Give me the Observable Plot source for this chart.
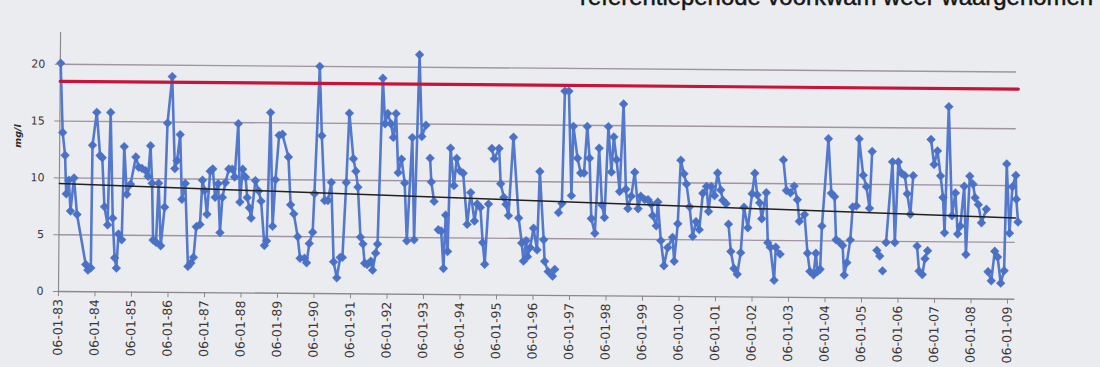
<!DOCTYPE html>
<html>
<head>
<meta charset="utf-8">
<script src="https://cdn.jsdelivr.net/npm/d3@7"></script>
<script src="https://cdn.jsdelivr.net/npm/@observablehq/plot@0.6"></script>
<style>
  html, body { margin: 0; padding: 0; background: #ebecef; width: 1100px; height: 367px; overflow: hidden; }
  #wrap { position: relative; width: 1100px; height: 367px; }
  #chart svg { position: absolute; left: 0; top: 0; transform-origin: 58px 291px; transform: rotate(0.46deg); }
  #overlay { position: absolute; left: 0; top: 0; pointer-events: none; }
</style>
</head>
<body>
<div id="wrap">
  <div id="chart"></div>
  <svg id="overlay" width="1100" height="367">
    <text x="580" y="5" font-family="Liberation Sans, Arial, sans-serif" font-size="24" fill="#151515" stroke="#151515" stroke-width="0.5" textLength="513" lengthAdjust="spacingAndGlyphs">referentieperiode voorkwam weer waargenomen</text>
    <text transform="translate(21,136) rotate(-90)" text-anchor="middle" font-family="DejaVu Sans, sans-serif" font-size="9.5" font-weight="bold" font-style="italic" fill="#2e2a2a">mg/l</text>
  </svg>
</div>
<script>
// Sampling moments (decimal years; 1983.00 = 06-01-83); null concentration = break in the line
const sampleYears = [
  1983.01,1983.08,1983.15,1983.19,1983.26,1983.31,1983.40,1983.49,1983.74,1983.80,1983.88,1983.90,
  1984.01,1984.11,1984.17,1984.24,1984.33,1984.39,1984.47,1984.53,1984.58,1984.63,1984.72,1984.77,1984.85,1984.95,
  1985.09,1985.17,1985.26,1985.36,1985.43,1985.49,1985.54,1985.58,1985.66,1985.72,1985.79,1985.89,1985.95,
  1986.07,1986.16,1986.22,1986.30,1986.36,1986.45,1986.54,1986.62,1986.69,1986.76,1986.86,1986.92,1986.98,
  1987.05,1987.13,1987.20,1987.27,1987.35,1987.41,1987.47,1987.55,1987.64,1987.73,1987.80,1987.89,1987.95,
  1988.02,1988.10,1988.15,1988.21,1988.26,1988.37,1988.46,1988.53,1988.63,1988.69,1988.77,1988.85,1988.92,
  1989.01,1989.10,1989.27,1989.34,1989.43,1989.54,1989.61,1989.73,1989.79,1989.86,1989.95,1989.99,
  1990.11,1990.18,1990.27,1990.36,1990.45,1990.53,1990.62,1990.71,1990.77,1990.86,1990.93,
  1991.05,1991.12,1991.18,1991.26,1991.33,1991.38,1991.45,1991.55,1991.60,1991.68,1991.73,1991.84,1991.91,1991.98,
  1992.07,1992.14,1992.21,1992.28,1992.37,1992.46,1992.53,1992.66,1992.73,1992.84,1992.92,
  1993.03,1993.09,1993.15,1993.19,1993.27,1993.33,1993.39,1993.47,1993.54,1993.59,1993.65,1993.71,1993.81,1993.88,1993.97,
  1994.06,1994.18,1994.27,1994.38,1994.45,1994.54,1994.61,1994.67,1994.76,1994.80,1994.84,1994.91,
  1995.04,1995.09,1995.18,1995.24,1995.31,1995.43,1995.59,1995.68,1995.73,1995.80,1995.84,1995.91,
  1996.00,1996.10,1996.16,1996.28,1996.31,1996.41,1996.53,1996.59,1996.63,1996.68,1996.77,1996.83,1996.94,
  1997.03,1997.07,1997.19,1997.28,1997.37,1997.45,1997.52,1997.58,1997.68,1997.78,1997.87,1997.94,
  1998.03,1998.12,1998.18,1998.26,1998.35,1998.44,1998.52,1998.58,1998.67,1998.76,1998.86,1998.93,
  1999.04,1999.13,1999.22,1999.26,1999.36,1999.40,1999.49,1999.58,1999.68,1999.81,1999.86,1999.95,
  2000.02,2000.11,2000.18,2000.27,2000.36,2000.45,2000.54,2000.63,2000.73,2000.79,2000.86,2000.95,
  2001.03,2001.12,2001.18,2001.27,2001.30,2001.34,2001.41,2001.50,2001.59,2001.68,2001.76,2001.87,2001.98,
  2002.05,2002.12,2002.19,2002.25,2002.37,2002.42,2002.49,2002.60,2002.64,2002.76,2002.80,2002.83,2002.92,
  2003.03,2003.13,2003.22,2003.28,2003.42,2003.51,2003.58,2003.68,2003.74,2003.79,2003.86,2003.90,
  2004.06,2004.15,2004.24,2004.29,2004.38,2004.47,2004.52,2004.59,2004.68,2004.74,2004.84,2004.90,
  2005.02,2005.11,2005.20,2005.26,2005.33,2005.41,2005.49,2005.53,2005.57,2005.61,2005.66,2005.82,2005.90,2005.98,
  2006.07,2006.16,2006.23,2006.32,2006.39,2006.45,2006.51,2006.57,2006.66,2006.73,2006.80,2006.83,2006.87,2006.96,
  2007.05,2007.14,2007.21,2007.26,2007.35,2007.46,2007.55,2007.62,2007.69,2007.79,2007.85,2007.94,
  2008.03,2008.09,2008.18,2008.27,2008.40,2008.43,2008.46,2008.55,2008.64,2008.72,2008.81,2008.90,2008.95,
  2009.04,2009.11,2009.20,2009.22,2009.27
];
// Concentration (mg/l)
const concentrations = [
  20.1,14.0,12.0,8.6,9.8,7.1,10.0,6.8,2.4,1.9,2.1,12.9,
  15.8,12.0,11.8,7.5,5.9,15.8,6.5,3.0,2.1,5.1,4.6,12.8,8.6,9.5,
  11.9,11.0,10.9,10.7,10.2,12.9,9.6,4.6,4.4,9.6,4.1,7.5,14.9,
  19.0,10.9,11.6,13.9,8.2,9.6,2.3,2.6,3.1,5.8,6.0,9.9,9.0,
  6.9,10.7,10.9,8.4,9.6,5.3,8.4,9.7,10.9,10.9,10.2,14.9,8.0,
  10.9,10.2,8.4,7.5,6.6,9.9,9.0,8.1,4.2,4.6,15.9,5.9,10.0,
  13.9,14.0,12.0,7.8,7.0,5.0,3.1,3.1,2.7,4.4,5.4,8.8,
  20.0,13.9,8.2,8.2,9.8,2.8,1.4,3.2,3.2,9.8,15.9,
  11.9,10.8,9.4,5.0,4.4,2.7,2.6,2.9,2.1,3.6,4.4,19.0,15.0,15.9,
  15.0,13.8,15.9,10.7,11.9,9.8,4.7,13.8,4.8,21.1,13.9,
  14.9,null,12.0,9.9,8.2,null,5.7,5.6,2.3,7.0,3.8,12.9,9.6,12.0,10.9,
  10.7,6.2,9.0,6.5,8.0,7.7,4.6,2.7,8.0,null,12.9,12.0,
  12.9,9.8,8.6,8.0,7.0,13.9,6.8,4.6,3.0,4.8,3.4,4.2,
  5.9,4.0,10.9,4.9,3.0,2.1,1.7,2.3,null,7.3,8.1,18.0,18.0,
  8.8,14.9,12.1,10.8,10.8,14.9,12.1,6.8,5.5,13.0,8.0,6.9,
  14.9,10.9,14.0,12.0,9.2,16.9,9.4,7.7,8.8,10.9,7.7,8.8,
  8.5,8.5,8.1,7.1,6.2,8.3,4.9,2.7,4.3,5.2,3.1,6.4,
  12.0,10.8,9.9,7.9,5.3,6.6,5.9,9.1,9.7,7.5,9.7,8.9,
  10.9,9.4,8.5,8.2,null,6.4,4.0,2.5,2.0,3.9,7.9,6.1,9.1,
  10.9,9.0,8.3,6.9,9.2,4.8,4.4,1.5,4.4,3.8,null,12.1,9.4,
  9.2,9.8,8.6,6.7,7.3,3.9,2.3,2.0,3.9,2.3,2.5,6.3,
  14.0,9.2,8.9,5.1,4.9,4.6,2.0,3.1,5.1,8.0,8.1,14.0,
  10.8,9.8,7.9,12.9,null,4.2,3.7,null,2.4,null,4.9,12.0,4.9,12.0,
  11.0,10.8,9.2,7.4,10.8,null,4.6,2.4,2.1,3.5,4.2,null,14.0,11.8,
  13.0,10.8,8.9,5.8,16.9,7.3,9.3,5.7,6.4,9.9,3.9,10.8,
  10.1,8.9,8.3,6.7,7.9,null,2.4,1.6,4.2,3.7,1.4,2.5,11.9,
  5.8,9.9,10.9,8.8,6.8
];
const yTicks = [0, 5, 10, 15, 20];
const xTickYears = d3.range(1983, 2010);
const periodStart = 1983, periodEnd = 2009.2;
const normValue = 18.5;          // red reference line
const trendValues = [9.5, 7.15];  // black trend line, start and end

const data = sampleYears.map((x, i) => ({x, y: concentrations[i]}));
const norm = [{x: periodStart, y: normValue}, {x: periodEnd + 0.05, y: normValue}];
const trend = [{x: periodStart, y: trendValues[0]}, {x: periodEnd, y: trendValues[1]}];

const plot = Plot.plot({
  width: 1100,
  height: 367,
  marginLeft: 58,
  marginRight: 82,
  marginTop: 32,
  marginBottom: 76,
  style: {background: "transparent", fontFamily: "DejaVu Sans, sans-serif", color: "#3a3535"},
  x: {domain: [1983, 2009.3]},
  y: {domain: [0, 22.8]},
  marks: [
    Plot.ruleY(yTicks.filter(d => d > 0), {x1: periodStart, x2: periodEnd, stroke: "#a094a0", strokeWidth: 1.4}),
    Plot.ruleY([0], {x1: periodStart, x2: periodEnd, stroke: "#8e878c", strokeWidth: 1.4}),
    Plot.ruleX([periodStart], {y1: 0, y2: 22.8, stroke: "#8e8a8e", strokeWidth: 1.2}),
    Plot.line(data, {x: "x", y: "y", stroke: "#5479cc", strokeWidth: 2.6}),
    Plot.dot(data, {x: "x", y: "y", symbol: "diamond2", r: 4, fill: "#4a71c6", stroke: "#4a71c6", strokeWidth: 0.4}),
    Plot.line(norm, {x: "x", y: "y", stroke: "#c6143a", strokeWidth: 3.2}),
    Plot.line(trend, {x: "x", y: "y", stroke: "#242020", strokeWidth: 1.5}),
    Plot.axisX({
      ticks: xTickYears,
      tickFormat: d => "06-01-" + String(d % 100).padStart(2, "0"),
      tickRotate: -90,
      tickSize: 5,
      tickPadding: 2.5,
      stroke: "#8e878c",
      fontSize: 12.5,
      label: null
    }),
    Plot.axisY({
      ticks: yTicks,
      tickSize: 5,
      tickPadding: 10,
      stroke: "#8e878c",
      fontSize: 11,
      label: null
    })
  ]
});
document.getElementById("chart").appendChild(plot);
</script>
</body>
</html>
